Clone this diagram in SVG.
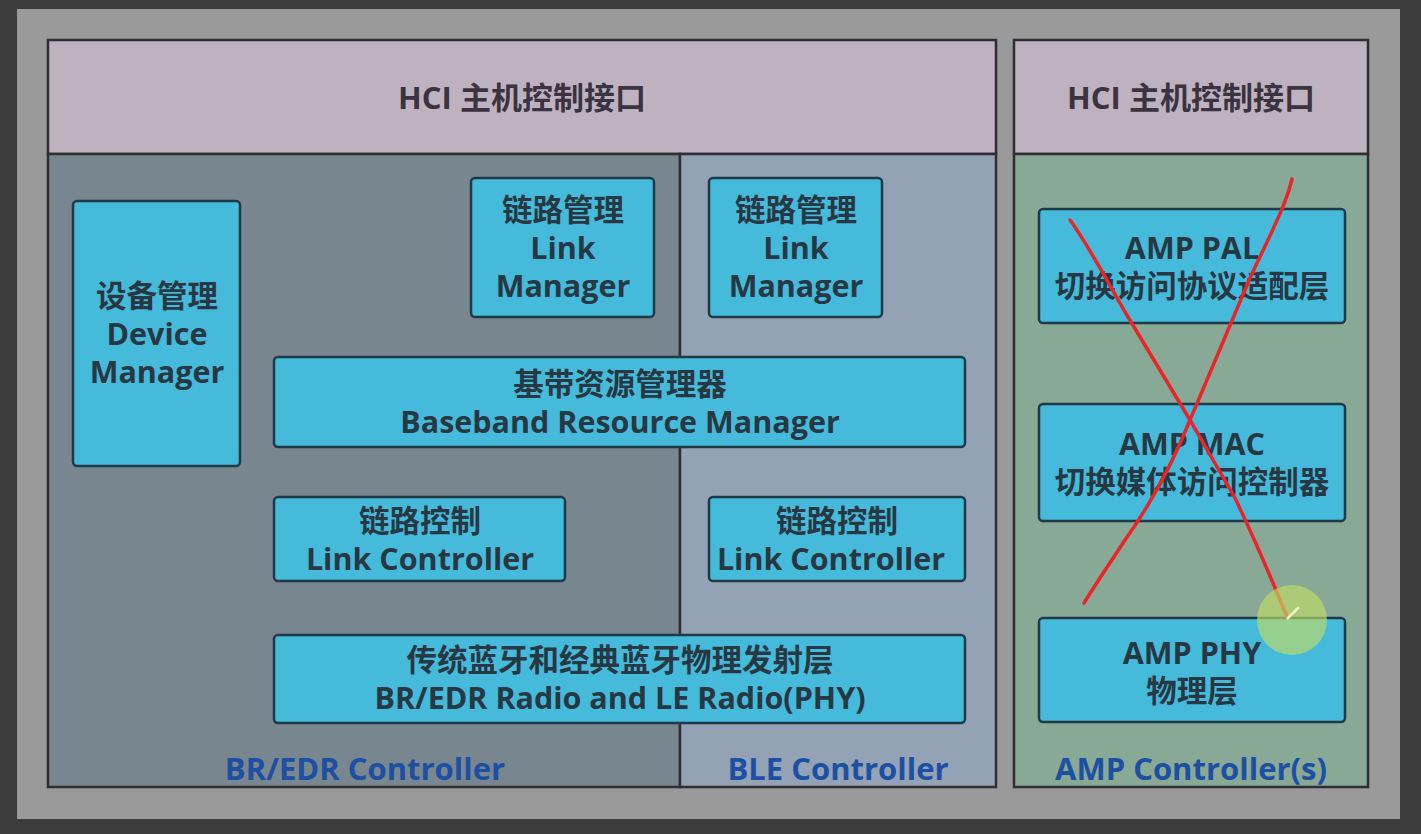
<svg xmlns="http://www.w3.org/2000/svg" width="1421" height="834" viewBox="0 0 1421 834">
<style>
.node rect{fill:#46badb;stroke:#1f3a47;stroke-width:2.5}
.t{font-family:"Open Sans","Noto Sans CJK SC",sans-serif;font-weight:700;font-size:30.5px;fill:#263843;text-anchor:middle}
.hdr{font-family:"Open Sans","Noto Sans CJK SC",sans-serif;font-weight:700;font-size:31px;fill:#3b3340;text-anchor:middle}
.lbl{font-family:"Open Sans","Noto Sans CJK SC",sans-serif;font-weight:700;font-size:31px;fill:#1d4fa3;text-anchor:middle}
.x{fill:none;stroke:#e8262a;stroke-width:3.5;stroke-linecap:round;stroke-linejoin:round}
</style>
<rect x="0" y="0" width="1421" height="834" fill="#3c3c3c"/>
<rect x="17" y="9" width="1383" height="810" fill="#9a9a9b"/>
<g id="brEdrPanel">
<rect x="48" y="40" width="948" height="114" fill="#beb2c0" stroke="#2e2e33" stroke-width="2.5"/>
<rect x="48" y="154" width="632" height="633" fill="#77868f" stroke="#2e2e33" stroke-width="2.5"/>
<rect x="680" y="154" width="316" height="633" fill="#93a3b5" stroke="#2e2e33" stroke-width="2.5"/>
<text class="hdr" x="522" y="109">HCI 主机控制接口</text>
<text class="lbl" x="365" y="780">BR/EDR Controller</text>
<text class="lbl" x="838" y="780">BLE Controller</text>
</g>
<g id="ampPanel">
<rect x="1014" y="40" width="354" height="114" fill="#beb2c0" stroke="#2e2e33" stroke-width="2.5"/>
<rect x="1014" y="154" width="354" height="633" fill="#87a996" stroke="#2e2e33" stroke-width="2.5"/>
<text class="hdr" x="1191" y="109">HCI 主机控制接口</text>
<text class="lbl" x="1191" y="780">AMP Controller(s)</text>
</g>
<g id="deviceManager" class="node"><rect x="73" y="201" width="167" height="265" rx="4"/>
<text class="t" x="157" y="307">设备管理</text><text class="t" x="157" y="345">Device</text><text class="t" x="157" y="383">Manager</text></g>
<g id="linkManager1" class="node"><rect x="471" y="178" width="183" height="139" rx="4"/>
<text class="t" x="563" y="221">链路管理</text><text class="t" x="563" y="259">Link</text><text class="t" x="563" y="297">Manager</text></g>
<g id="linkManager2" class="node"><rect x="709" y="178" width="173" height="139" rx="4"/>
<text class="t" x="796" y="221">链路管理</text><text class="t" x="796" y="259">Link</text><text class="t" x="796" y="297">Manager</text></g>
<g id="baseband" class="node"><rect x="274" y="357" width="691" height="90" rx="4"/>
<text class="t" x="620" y="395">基带资源管理器</text><text class="t" x="620" y="433">Baseband Resource Manager</text></g>
<g id="linkController1" class="node"><rect x="274" y="497" width="291" height="84" rx="4"/>
<text class="t" x="420" y="532">链路控制</text><text class="t" x="420" y="570">Link Controller</text></g>
<g id="linkController2" class="node"><rect x="709" y="497" width="256" height="84" rx="4"/>
<text class="t" x="837" y="532">链路控制</text><text class="t" x="831" y="570">Link Controller</text></g>
<g id="radio" class="node"><rect x="274" y="635" width="691" height="88" rx="4"/>
<text class="t" x="620" y="671">传统蓝牙和经典蓝牙物理发射层</text><text class="t" x="620" y="709">BR/EDR Radio and LE Radio(PHY)</text></g>
<g id="ampPal" class="node"><rect x="1039" y="209" width="306" height="114" rx="4"/>
<text class="t" x="1192" y="259">AMP PAL</text><text class="t" x="1192" y="297">切换访问协议适配层</text></g>
<g id="ampMac" class="node"><rect x="1039" y="404" width="306" height="117" rx="4"/>
<text class="t" x="1192" y="455">AMP MAC</text><text class="t" x="1192" y="493">切换媒体访问控制器</text></g>
<g id="ampPhy" class="node"><rect x="1039" y="618" width="306" height="104" rx="4"/>
<text class="t" x="1192" y="664">AMP PHY</text><text class="t" x="1192" y="702">物理层</text></g>
<g id="connectors">
<path class="x" d="M1070,220 C1085,240 1100,268 1125,312 L1190,420 L1235,498 C1255,540 1272,580 1287,617"/>
<path class="x" d="M1292,179 C1286,205 1270,235 1250,278 L1190,420 C1170,470 1150,505 1125,540 C1110,563 1095,585 1084,603"/>
<circle cx="1292" cy="620" r="35" fill="#c2dc66" fill-opacity="0.65"/>
<path d="M1287,619 L1299,607" stroke="#f4f0c0" stroke-width="2.5"/>
</g>
</svg>
